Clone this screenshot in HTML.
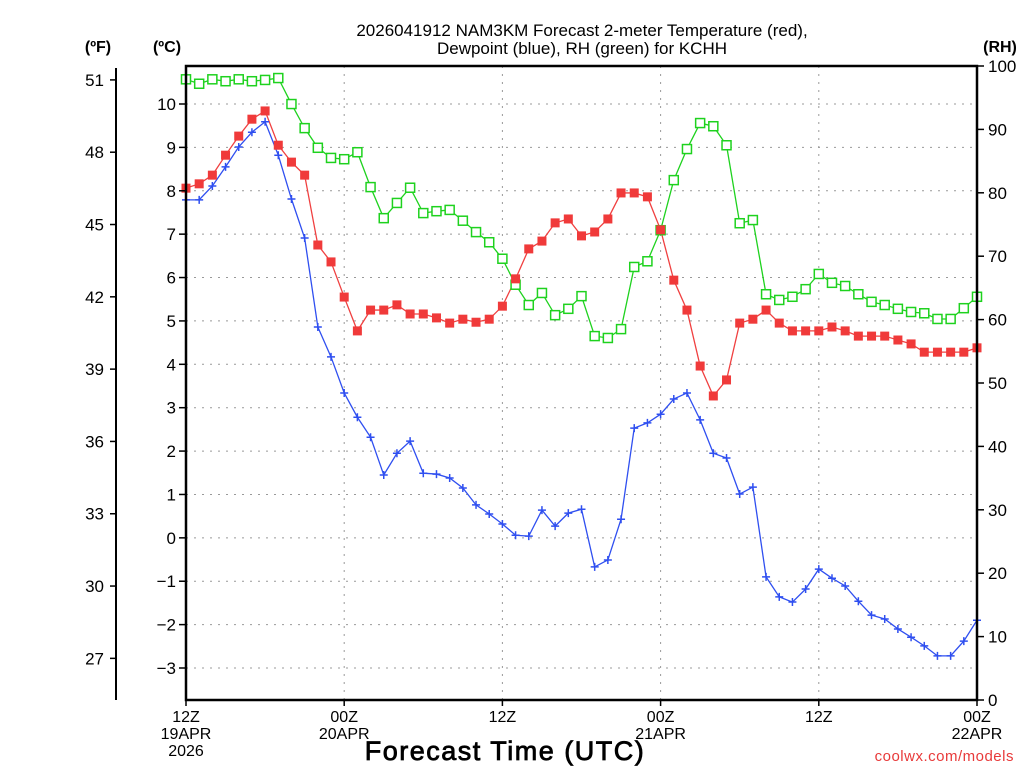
<!DOCTYPE html>
<html><head><meta charset="utf-8"><style>
html,body{margin:0;padding:0;background:#fff;}
svg{display:block;font-family:"Liberation Sans",sans-serif;}
</style></head><body>
<svg id="chart" width="1024" height="768" viewBox="0 0 1024 768" xmlns="http://www.w3.org/2000/svg">
<text x="582" y="36" text-anchor="middle" font-size="17" fill="#000">2026041912 NAM3KM Forecast 2-meter Temperature (red),</text>
<text x="582" y="54" text-anchor="middle" font-size="17" fill="#000">Dewpoint (blue), RH (green) for KCHH</text>
<text x="98" y="52" text-anchor="middle" font-size="16" font-weight="bold">(ºF)</text>
<text x="167" y="52" text-anchor="middle" font-size="16" font-weight="bold">(ºC)</text>
<text x="1000" y="52" text-anchor="middle" font-size="16" font-weight="bold">(RH)</text>
<g id="grid"></g>
<g id="series"></g>
<rect x="186" y="66" width="791" height="634" fill="none" stroke="#000" stroke-width="2.5"/>
<line x1="116" y1="68" x2="116" y2="700" stroke="#000" stroke-width="2"/>
<g id="axes"></g>
<text x="505" y="760" text-anchor="middle" font-size="27" stroke="#000" stroke-width="0.8" letter-spacing="1.5">Forecast Time (UTC)</text>
<text x="1014" y="761" text-anchor="end" font-size="15" fill="#e83a3a" letter-spacing="0.5">coolwx.com/models</text>
</svg>
<script>
const temps=[8.06,8.16,8.36,8.82,9.26,9.65,9.84,9.05,8.66,8.36,6.75,6.36,5.55,4.77,5.25,5.25,5.37,5.16,5.16,5.07,4.95,5.04,4.97,5.04,5.34,5.97,6.66,6.84,7.26,7.35,6.96,7.05,7.35,7.95,7.95,7.86,7.1,5.94,5.25,3.96,3.27,3.64,4.95,5.04,5.25,4.95,4.77,4.77,4.77,4.86,4.77,4.65,4.65,4.65,4.56,4.47,4.28,4.28,4.28,4.28,4.38];
const dewpts=[7.79,7.79,8.11,8.55,9.01,9.35,9.59,8.82,7.81,6.91,4.86,4.17,3.34,2.78,2.32,1.45,1.95,2.23,1.49,1.47,1.38,1.15,0.76,0.55,0.32,0.06,0.04,0.64,0.27,0.57,0.66,-0.67,-0.51,0.43,2.53,2.65,2.85,3.2,3.34,2.72,1.95,1.84,1.01,1.17,-0.9,-1.36,-1.48,-1.18,-0.72,-0.93,-1.11,-1.46,-1.78,-1.87,-2.1,-2.29,-2.49,-2.72,-2.72,-2.38,-1.9];
const rhs=[97.9,97.2,97.9,97.6,97.9,97.6,97.8,98.1,94.0,90.2,87.1,85.5,85.3,86.4,80.9,76.0,78.4,80.8,76.8,77.1,77.3,75.6,73.8,72.2,69.6,65.5,62.3,64.2,60.7,61.7,63.7,57.4,57.1,58.5,68.3,69.2,74.1,82.0,86.9,91.0,90.5,87.5,75.2,75.7,64.0,63.1,63.6,64.8,67.2,65.8,65.3,64.0,62.8,62.3,61.7,61.2,61.0,60.1,60.1,61.8,63.6];
const cTicks=[10,9,8,7,6,5,4,3,2,1,0,-1,-2,-3];
const fTicks=[51,48,45,42,39,36,33,30,27];
const rhTicks=[100,90,80,70,60,50,40,30,20,10,0];
const xTickHours=[0,12,24,36,48,60];
const xTickLabels=[["12Z","19APR","2026"],["00Z","20APR"],["12Z"],["00Z","21APR"],["12Z"],["00Z","22APR"]];

const NS="http://www.w3.org/2000/svg";
const X0=186,X1=977,Y0=66,Y1=700;
const xs=h=>X0+(X1-X0)*h/60;
const yc=c=>104+(10-c)*(668-104)/13;
const yf=f=>yc((f-32)*5/9);
const yrh=r=>Y1-(Y1-Y0)*r/100;
function mk(tag,attrs,parent){const e=document.createElementNS(NS,tag);for(const k in attrs)e.setAttribute(k,attrs[k]);parent.appendChild(e);return e;}
const grid=document.getElementById('grid'),axes=document.getElementById('axes'),series=document.getElementById('series');

cTicks.forEach(c=>{
  const g=mk('line',{x1:X0,x2:X1,y1:yc(c),y2:yc(c),stroke:'#999','stroke-dasharray':'2,6','stroke-width':1},grid);
  
  
  const t=mk('line',{x1:X0-7,x2:X0,y1:yc(c),y2:yc(c),stroke:'#000','stroke-width':1.5},axes);
  
  
  const l=mk('text',{x:X0-10,y:yc(c)+6,'text-anchor':'end','font-size':17},axes);
  
  
  l.textContent=c<0?'\u2212'+(-c):String(c);
});
fTicks.forEach(f=>{
  const t=mk('line',{x1:110,x2:116,y1:yf(f),y2:yf(f),stroke:'#000','stroke-width':1.5},axes);
  
  
  const l=mk('text',{x:104,y:yf(f)+6,'text-anchor':'end','font-size':17},axes);
  
  
  l.textContent=String(f);
});
rhTicks.forEach(r=>{
  const t=mk('line',{x1:X1,x2:X1+7,y1:yrh(r),y2:yrh(r),stroke:'#000','stroke-width':1.5},axes);
  
  
  const l=mk('text',{x:X1+11,y:yrh(r)+6,'text-anchor':'start','font-size':17},axes);
  
  
  l.textContent=String(r);
});
xTickHours.forEach((h,i)=>{
  const x=xs(h);
  if(h>0&&h<60){
    const g=mk('line',{x1:x,x2:x,y1:Y0,y2:Y1,stroke:'#999','stroke-dasharray':'2,6','stroke-width':1},grid);
    
    
  }
  const t=mk('line',{x1:x,x2:x,y1:Y1,y2:Y1+6,stroke:'#000','stroke-width':1.5},axes);
  
  
  xTickLabels[i].forEach((s,j)=>{
    const l=mk('text',{x:x,y:722+j*17,'text-anchor':'middle','font-size':16},axes);
    
    
    l.textContent=s;
  });
});

function line(vals,yfn,color,name){
  const p=mk('polyline',{points:vals.map((v,i)=>xs(i)+','+yfn(v)).join(' '),fill:'none',stroke:color,'stroke-width':1.3},series);
  
  
}
line(rhs,yrh,'#1ed21e','rh');
line(temps,yc,'#f04040','temperature');
line(dewpts,yc,'#2f4ff0','dewpoint');
rhs.forEach((v,i)=>{
  const m=mk('rect',{x:xs(i)-4.5,y:yrh(v)-4.5,width:9,height:9,fill:'#fff',stroke:'#1ed21e','stroke-width':1.5},series);
  
  
});
temps.forEach((v,i)=>{
  const m=mk('rect',{x:xs(i)-4.5,y:yc(v)-4.5,width:9,height:9,fill:'#f03a3a'},series);
  
  
});
dewpts.forEach((v,i)=>{
  const x=xs(i),y=yc(v);
  const m=mk('path',{d:`M${x-4},${y}H${x+4}M${x},${y-4}V${y+4}`,stroke:'#2f4ff0','stroke-width':1.5,fill:'none'},series);
  
  
});
</script>
</body></html>
